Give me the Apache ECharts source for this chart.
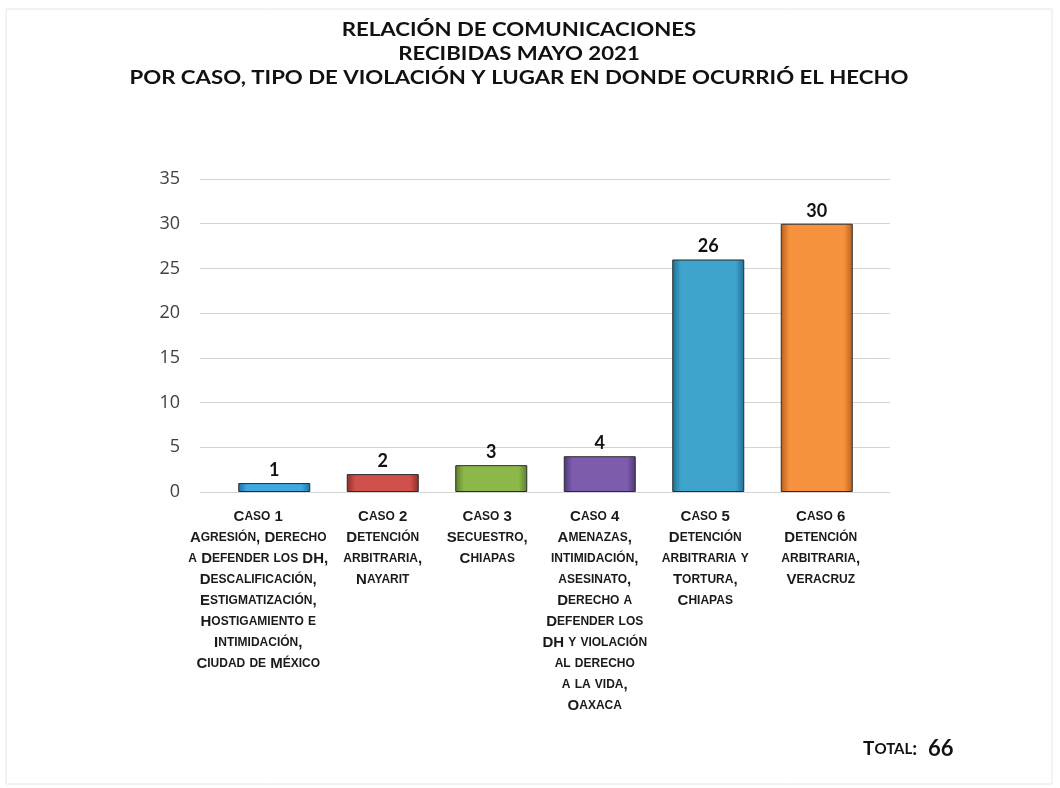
<!DOCTYPE html>
<html>
<head>
<meta charset="utf-8">
<script src="https://cdn.jsdelivr.net/npm/echarts@6/dist/echarts.min.js"></script>
<style>html,body{margin:0;padding:0;background:#fff;}#c{width:1060px;height:788px;}</style>
</head>
<body>
<div id="c"></div>
<script>
const titleLines = ["RELACIÓN DE COMUNICACIONES", "RECIBIDAS MAYO 2021", "POR CASO, TIPO DE VIOLACIÓN Y LUGAR EN DONDE OCURRIÓ EL HECHO"];
const categories = [
  "Caso 1\nAgresión, Derecho\na Defender los DH,\nDescalificación,\nEstigmatización,\nHostigamiento e\nIntimidación,\nCiudad de México",
  "Caso 2\nDetención\narbitraria,\nNayarit",
  "Caso 3\nSecuestro,\nChiapas",
  "Caso 4\nAmenazas,\nintimidación,\nasesinato,\nDerecho a\nDefender los\nDH y violación\nal derecho\na la vida,\nOaxaca",
  "Caso 5\nDetención\narbitraria y\nTortura,\nChiapas",
  "Caso 6\nDetención\narbitraria,\nVeracruz"
];
const values = [1, 2, 3, 4, 26, 30];
const yTicks = [0, 5, 10, 15, 20, 25, 30, 35];
const totalLabel = "Total:";
const totalValue = 66;

const barColors = [
  ['#1f6fa3', '#3fa9e0'],
  ['#8e2f2c', '#d0504c'],
  ['#5c7e2a', '#8cb84a'],
  ['#4d3675', '#7d5cae'],
  ['#1d6f94', '#3fa3cc'],
  ['#b75f1c', '#f6913e']
];
// per-label horizontal nudge (px, negative = left) to mimic the reference's label placement
const labelShift = [-16, 0, -4, -5, -3, 4];

function smallCaps(text, shift) {
  return text.split('\n').map(line => {
    let out = '', cur = '', curType = null;
    for (const ch of line) {
      const isLower = ch !== ch.toUpperCase();
      const t = isLower ? 's' : 'b';
      if (t !== curType && cur) { out += '{' + curType + '|' + cur + '}'; cur = ''; }
      curType = t;
      cur += ch.toUpperCase();
    }
    if (cur) out += '{' + curType + '|' + cur + '}';
    if (shift < 0) out = out + '{p' + (-shift * 2) + '|}';
    else if (shift > 0) out = '{p' + (shift * 2) + '|}' + out;
    return out;
  }).join('\n');
}

const rich = {
  b: { fontFamily: 'Liberation Sans', fontWeight: 'bold', fontSize: 15, color: '#1a1a1a', lineHeight: 21 },
  s: { fontFamily: 'Liberation Sans', fontWeight: 'bold', fontSize: 12, color: '#1a1a1a', lineHeight: 21 }
};
labelShift.forEach(s => { const w = Math.abs(s) * 2; if (w) rich['p' + w] = { width: w }; });

const chart = echarts.init(document.getElementById('c'));
const yMin = yTicks[0], yMax = yTicks[yTicks.length - 1], yInt = yTicks[1] - yTicks[0];
const gridTop = 179, gridBottom = 296;

chart.setOption({
  backgroundColor: '#ffffff',
  animation: false,
  title: [{
    text: smallCaps(totalLabel, 0) + '{v|  ' + totalValue + '}',
    left: 858, top: 733,
    textStyle: {
      rich: {
        b: { fontFamily: 'Lato', fontWeight: 'bold', fontSize: 19, color: '#111' },
        s: { fontFamily: 'Lato', fontWeight: 'bold', fontSize: 15, color: '#111' },
        v: { fontFamily: 'Lato', fontWeight: 'bold', fontSize: 22, color: '#111' }
      }
    }
  }],
  graphic: [{
    type: 'rect', shape: { x: 6, y: 9, width: 1046, height: 775 },
    style: { fill: 'none', stroke: '#e6e6e6', lineWidth: 1 }, silent: true, z: -1
  }, {
    type: 'text', x: 519, y: 18, scaleX: 1.2, originX: 0, originY: 0,
    style: {
      text: titleLines.join('\n'), align: 'center', verticalAlign: 'top',
      fontFamily: 'Lato', fontWeight: 'bold', fontSize: 18.5, lineHeight: 24, fill: '#111'
    }
  }],
  grid: [
    { left: 200, right: 170, top: gridTop, bottom: gridBottom },
    { left: 220, right: 189, top: gridTop, bottom: gridBottom }
  ],
  xAxis: [{
    gridIndex: 0, type: 'value', min: 0, max: 1, show: false
  }, {
    gridIndex: 1, type: 'category', data: categories,
    axisLine: { show: false }, axisTick: { show: false },
    axisLabel: {
      interval: 0, margin: 14, lineHeight: 21,
      formatter: (v, idx) => smallCaps(v, labelShift[idx] || 0),
      rich: rich
    }
  }],
  yAxis: [{
    gridIndex: 0, type: 'value', min: yMin, max: yMax, interval: yInt,
    axisLine: { show: false }, axisTick: { show: false },
    axisLabel: { margin: 20, fontFamily: 'Open Sans', fontSize: 18, color: '#404040' },
    splitLine: { lineStyle: { color: '#d4d4d4', width: 1 } }
  }, {
    gridIndex: 1, type: 'value', min: yMin, max: yMax, interval: yInt,
    show: false, splitLine: { show: false }
  }],
  series: [{
    type: 'bar', xAxisIndex: 1, yAxisIndex: 1,
    data: values.map((v, i) => ({
      value: v,
      itemStyle: {
        color: new echarts.graphic.LinearGradient(0, 0, 1, 0, [
          { offset: 0, color: barColors[i][0] },
          { offset: 0.12, color: barColors[i][1] },
          { offset: 0.88, color: barColors[i][1] },
          { offset: 1, color: barColors[i][0] }
        ]),
        borderColor: '#2a2a2a', borderWidth: 1
      }
    })),
    barWidth: 72,
    label: {
      show: true, position: 'top', distance: 4,
      fontFamily: 'Lato', fontWeight: 'bold', fontSize: 18, color: '#111'
    }
  }]
});
</script>
</body>
</html>
